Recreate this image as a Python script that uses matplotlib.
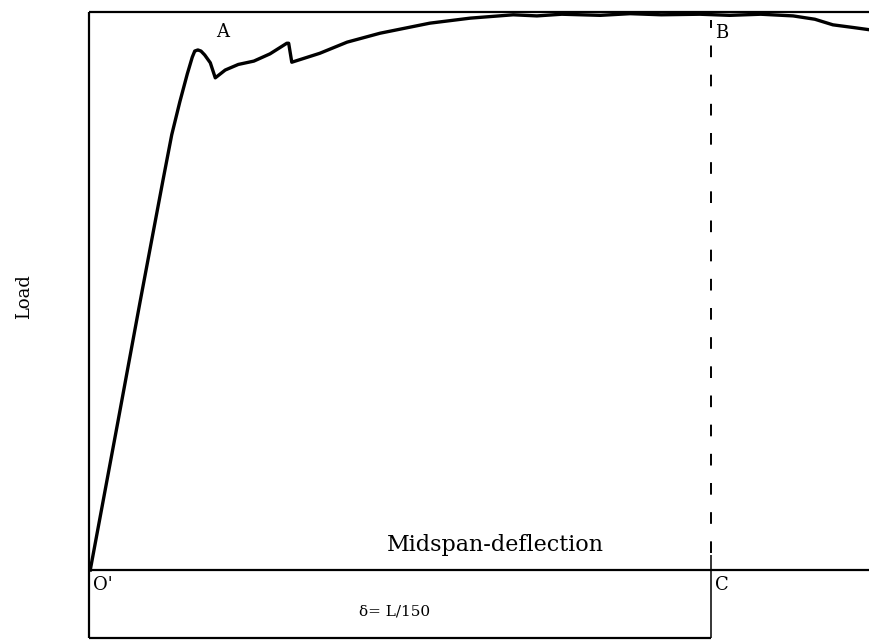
import numpy as np
import matplotlib
matplotlib.use("Agg")
import matplotlib.pyplot as plt

# Load-deflection curve (deflection normalised to L/150 = 1, load to the top frame = 1)
deflection = [0.002, 0.047, 0.082, 0.119, 0.133, 0.146, 0.158, 0.166,
              0.170, 0.175, 0.180, 0.186, 0.195, 0.203, 0.219, 0.240, 0.265, 0.291,
              0.318, 0.321, 0.326, 0.371, 0.415, 0.468, 0.548, 0.613, 0.682, 0.720,
              0.760, 0.822, 0.870, 0.920, 0.982, 1.030, 1.080, 1.132, 1.167, 1.196,
              1.230, 1.256]
load = [0.000, 0.269, 0.480, 0.699, 0.780, 0.839, 0.889, 0.919,
        0.930, 0.932, 0.930, 0.923, 0.909, 0.882, 0.896, 0.906, 0.912, 0.925,
        0.944, 0.944, 0.910, 0.926, 0.946, 0.962, 0.980, 0.989, 0.995, 0.993,
        0.996, 0.994, 0.997, 0.995, 0.996, 0.994, 0.996, 0.993, 0.987, 0.977,
        0.972, 0.968]

limit_deflection = 1.0      # delta = L/150 (point C)
dim_bottom = -0.122         # bottom line of the dimension box

plt.rcParams["font.family"] = ["DejaVu Serif"]

fig = plt.figure(figsize=(8.7, 6.42), dpi=100)
ax = fig.add_axes([0, 0, 1, 1])
ax.set_xlim(-0.1431, 1.2556)
ax.set_ylim(-0.129, 1.0215)
ax.axis("off")

k = dict(color="black", solid_capstyle="butt")
# frame
ax.plot([0, 1.2556], [1.0, 1.0], lw=1.6, **k)
ax.plot([0, 0], [dim_bottom, 1.0], lw=1.6, **k)
ax.plot([0, 1.2556], [0, 0], lw=1.6, **k)
ax.plot([0, limit_deflection], [dim_bottom, dim_bottom], lw=1.6, **k)

# limit line at C
ax.plot([limit_deflection, limit_deflection], [0.03, 0.985], lw=1.4,
        color="black", linestyle=(0, (6, 9)))
ax.plot([limit_deflection, limit_deflection], [dim_bottom, 0.027], lw=1.1, **k)

# load curve
ax.plot(deflection, load, color="black", lw=2.4, solid_joinstyle="round")

ts = 13
ax.text(0.214, 0.965, "A", fontsize=ts, ha="center", va="center")
ax.text(1.006, 0.963, "B", fontsize=ts, ha="left", va="center")
ax.text(1.006, -0.026, "C", fontsize=ts, ha="left", va="center")
ax.text(0.007, -0.026, "O'", fontsize=ts, ha="left", va="center")
ax.text(0.654, 0.044, "Midspan-deflection", fontsize=16, ha="center", va="center")
ax.text(0.492, -0.075, "δ= L/150", fontsize=11, ha="center", va="center")
ax.text(-0.105, 0.49, "Load", fontsize=13, ha="center", va="center", rotation=90)

fig.savefig("out.png", dpi=100)
